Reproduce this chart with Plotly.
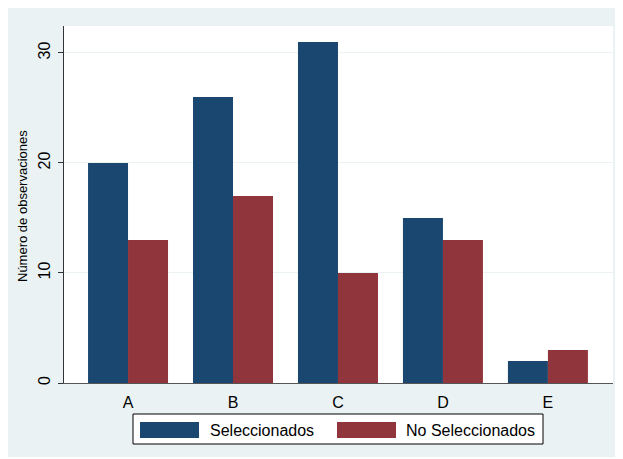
import plotly.graph_objects as go

categories = ["A", "B", "C", "D", "E"]
seleccionados = [20, 26, 31, 15, 2]
no_seleccionados = [13, 17, 10, 13, 3]
series_names = ["Seleccionados", "No Seleccionados"]
series_colors = ["#1A476F", "#90353B"]
y_title = "Número de observaciones"
y_ticks = [0, 10, 20, 30]

OFF = 8  # browser body margin
W, H = 610, 449
# plot area in page pixels: x 64..613, y 26..383
L, R, T, B = 64 - OFF, W - (613 - OFF), 26 - OFF, H - (383 - OFF)
PW, PH = W - L - R, H - T - B

def px_x(p):
    return (p - OFF - L) / PW

def px_y(p):
    return (H - B - (p - OFF)) / PH

BG = "#EAF2F3"
FONT = "Liberation Sans, Arial, sans-serif"

fig = go.Figure()
for name, vals, col in zip(series_names, [seleccionados, no_seleccionados], series_colors):
    fig.add_trace(go.Bar(x=categories, y=vals, name=name, marker_color=col,
                         marker_line_width=0, showlegend=False))

shapes = [
    dict(type="rect", xref="paper", yref="paper",
         x0=px_x(133), x1=px_x(543), y0=px_y(444), y1=px_y(414),
         fillcolor="white", line=dict(color="black", width=1)),
    dict(type="rect", xref="paper", yref="paper",
         x0=px_x(140), x1=px_x(199), y0=px_y(438), y1=px_y(422),
         fillcolor=series_colors[0], line_width=0),
    dict(type="rect", xref="paper", yref="paper",
         x0=px_x(337), x1=px_x(396), y0=px_y(438), y1=px_y(422),
         fillcolor=series_colors[1], line_width=0),
]
annotations = [
    dict(xref="paper", yref="paper", x=px_x(208), y=px_y(430), text=series_names[0],
         showarrow=False, xanchor="left", yanchor="middle",
         font=dict(family=FONT, size=16, color="black")),
    dict(xref="paper", yref="paper", x=px_x(404), y=px_y(430), text=series_names[1],
         showarrow=False, xanchor="left", yanchor="middle",
         font=dict(family=FONT, size=16, color="black")),
    dict(xref="paper", yref="paper", x=px_x(22), y=px_y(206), text=y_title, textangle=-90,
         showarrow=False, xanchor="center", yanchor="middle",
         font=dict(family=FONT, size=13, color="black")),
]

fig.update_layout(
    width=W, height=H,
    margin=dict(l=L, r=R, t=T, b=B, autoexpand=False),
    paper_bgcolor=BG,
    plot_bgcolor="white",
    barmode="group",
    bargap=0.238,
    bargroupgap=0,
    showlegend=False,
    shapes=shapes,
    annotations=annotations,
    font=dict(family=FONT, size=16, color="black"),
    xaxis=dict(
        range=[-0.61, 4.62], showgrid=False, zeroline=False,
        showline=True, linecolor="#555555", linewidth=1,
        ticks="", ticklabelstandoff=5,
        tickfont=dict(family=FONT, size=16, color="black"),
    ),
    yaxis=dict(
        range=[0, 32.45], tickvals=y_ticks, showgrid=True, gridcolor=BG, gridwidth=1,
        zeroline=False, showline=True, linecolor="#333333", linewidth=1,
        ticks="outside", ticklen=5, tickcolor="#333333", tickangle=-90,
        ticklabelstandoff=2,
        tickfont=dict(family=FONT, size=16, color="black"),
    ),
)

fig.write_html("out.html")
